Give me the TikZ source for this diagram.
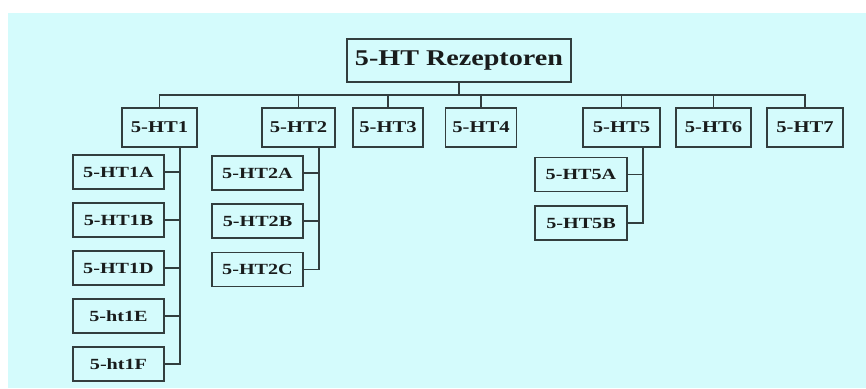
\documentclass[tikz,border=0pt]{standalone}
\usepackage{fontspec}
\newfontfamily\rootfont[FakeStretch=1.25]{Liberation Serif}
\newfontfamily\lvlfont[FakeStretch=1.25]{Liberation Serif}
\newfontfamily\subfont[FakeStretch=1.3]{Liberation Serif}
\definecolor{bgcyan}{RGB}{212,251,252}
\definecolor{linegray}{RGB}{50,62,62}
\definecolor{txt}{RGB}{25,28,28}
\begin{document}
\begin{tikzpicture}[x=1pt,y=-1pt,
  box/.style={draw=linegray,line width=1.6pt,inner sep=0pt,text=txt,fill=bgcyan},
  rootbox/.style={box,minimum width=224pt,minimum height=43pt,font=\rootfont\bfseries\fontsize{22.5}{24}\selectfont},
  lvlbox/.style={box,minimum height=39pt,font=\lvlfont\bfseries\fontsize{16.5}{18}\selectfont},
  subbox/.style={box,minimum width=91pt,minimum height=34pt,font=\subfont\bfseries\fontsize{15.5}{17}\selectfont},
  conn/.style={draw=linegray,line width=1.6pt}]
\useasboundingbox (0,0) rectangle (866,388);
\fill[white] (0,0) rectangle (866,388);
\fill[bgcyan] (8,13) rectangle (866,388);
% root
\node[rootbox] (root) at (459,60.5) {5-HT Rezeptoren};
% level 1
\node[lvlbox,minimum width=75pt] (ht1) at (159.5,127.5) {5-HT1};
\node[lvlbox,minimum width=73pt] (ht2) at (298.5,127.5) {5-HT2};
\node[lvlbox,minimum width=70pt] (ht3) at (388,127.5) {5-HT3};
\node[lvlbox,minimum width=71pt] (ht4) at (481,127.5) {5-HT4};
\node[lvlbox,minimum width=77pt] (ht5) at (621.5,127.5) {5-HT5};
\node[lvlbox,minimum width=75pt] (ht6) at (713.5,127.5) {5-HT6};
\node[lvlbox,minimum width=76pt] (ht7) at (805,127.5) {5-HT7};
% bus
\coordinate (bus) at (459,95);
\draw[conn] (root.south) -- (bus);
\draw[conn] (ht1.north) |- (bus) -| (ht7.north);
\foreach \n in {ht2,ht3,ht4,ht5,ht6} \draw[conn] (\n.north) -- (\n.north |- bus);
% level 2
\node[subbox] (h1A) at (118.5,172) {5-HT1A};
\node[subbox] (h1B) at (118.5,220) {5-HT1B};
\node[subbox] (h1D) at (118.5,268) {5-HT1D};
\node[subbox] (h1E) at (118.5,316) {5-ht1E};
\node[subbox] (h1F) at (118.5,364) {5-ht1F};
\node[subbox] (h2A) at (257.5,173) {5-HT2A};
\node[subbox] (h2B) at (257.5,221) {5-HT2B};
\node[subbox] (h2C) at (257.5,269.5) {5-HT2C};
\node[subbox,minimum width=92pt] (h5A) at (581,174.5) {5-HT5A};
\node[subbox,minimum width=92pt] (h5B) at (581,223) {5-HT5B};
% vertical trunks
\coordinate (t1) at (180,147);
\coordinate (t2) at (319,147);
\coordinate (t5) at (643,147);
\draw[conn] (t1) |- (h1F.east);
\foreach \n in {h1A,h1B,h1D,h1E} \draw[conn] (\n.east) -- (\n.east -| t1);
\draw[conn] (t2) |- (h2C.east);
\foreach \n in {h2A,h2B} \draw[conn] (\n.east) -- (\n.east -| t2);
\draw[conn] (t5) |- (h5B.east);
\draw[conn] (h5A.east) -- (h5A.east -| t5);
\end{tikzpicture}
\end{document}
